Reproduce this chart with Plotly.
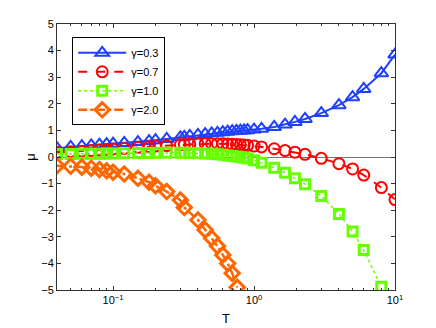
import plotly.graph_objects as go

# ---- data ----
T_main = [0.04, 0.05, 0.06, 0.07, 0.08, 0.09, 0.1, 0.12, 0.15, 0.18, 0.2, 0.24, 0.3, 0.32,
          0.35, 0.4, 0.45, 0.5, 0.55, 0.6, 0.65, 0.7, 0.75, 0.8, 0.85, 0.9, 1.0, 1.13,
          1.39, 1.66, 1.95, 2.3, 3.0, 4.0, 5.0, 6.0, 8.0, 10.0]

mu_03 = [0.33, 0.38, 0.41, 0.44, 0.46, 0.48, 0.50, 0.53, 0.56, 0.60, 0.63, 0.68, 0.74, 0.76,
         0.79, 0.83, 0.86, 0.89, 0.91, 0.93, 0.95, 0.97, 0.98, 0.99, 1.00, 1.01, 1.03, 1.06,
         1.13, 1.22, 1.32, 1.43, 1.65, 1.95, 2.25, 2.56, 3.15, 3.85]

mu_07 = [0.18, 0.20, 0.22, 0.24, 0.26, 0.28, 0.30, 0.32, 0.36, 0.39, 0.41, 0.43, 0.46, 0.47,
         0.48, 0.49, 0.50, 0.50, 0.50, 0.50, 0.49, 0.48, 0.47, 0.46, 0.45, 0.44, 0.41, 0.38,
         0.31, 0.24, 0.18, 0.10, -0.05, -0.25, -0.45, -0.68, -1.15, -1.60]

T_g10 = T_main[:-1]
mu_10 = [0.11, 0.11, 0.12, 0.12, 0.12, 0.13, 0.13, 0.14, 0.15, 0.15, 0.16, 0.16, 0.16, 0.16,
         0.15, 0.14, 0.13, 0.12, 0.10, 0.08, 0.06, 0.04, 0.02, 0.00, -0.03, -0.06, -0.12, -0.22,
         -0.40, -0.59, -0.80, -1.02, -1.47, -2.14, -2.80, -3.50, -4.88]

T_g20 = [0.04, 0.05, 0.06, 0.07, 0.08, 0.09, 0.1, 0.12, 0.15, 0.18, 0.2, 0.24, 0.3, 0.32,
         0.4, 0.45, 0.5, 0.55, 0.6, 0.65, 0.7, 0.76]
mu_20 = [-0.33, -0.35, -0.38, -0.42, -0.47, -0.52, -0.57, -0.64, -0.80, -0.95, -1.08, -1.30,
         -1.62, -1.90, -2.37, -2.74, -3.05, -3.35, -3.68, -4.00, -4.37, -4.90]

x_tickvals = [0.1, 1, 10]
x_ticktext = ["10<sup>−1</sup>", "10<sup>0</sup>", "10<sup>1</sup>"]
y_tickvals = [-5, -4, -3, -2, -1, 0, 1, 2, 3, 4, 5]
y_ticktext = ["−5", "−4", "−3", "−2", "−1", "0", "1", "2", "3", "4", "5"]
labels = ["γ=0.3", "γ=0.7", "γ=1.0", "γ=2.0"]

minor_vals = []
for dec in [0.01, 0.1, 1]:
    for k in range(2, 10):
        v = dec * k
        if 0.04 <= v <= 10:
            minor_vals.append(v)

fig = go.Figure()
fig.add_trace(go.Scatter(x=T_main, y=mu_03, name=labels[0], mode="lines+markers",
                         line=dict(color="#2040ff", width=2, dash="solid"),
                         marker=dict(symbol="triangle-up-open", size=12, color="#2040ff",
                                     line=dict(width=2, color="#2040ff"))))
fig.add_trace(go.Scatter(x=T_main, y=mu_07, name=labels[1], mode="lines+markers",
                         line=dict(color="#ff0000", width=2, dash="dash"),
                         marker=dict(symbol="circle-open", size=11, color="#ff0000",
                                     line=dict(width=2, color="#ff0000"))))
fig.add_trace(go.Scatter(x=T_g10, y=mu_10, name=labels[2], mode="lines+markers",
                         line=dict(color="#66ff00", width=1.5, dash="dot"),
                         marker=dict(symbol="square-open", size=9, color="#66ff00",
                                     line=dict(width=3, color="#66ff00"))))
fig.add_trace(go.Scatter(x=T_g20, y=mu_20, name=labels[3], mode="lines+markers",
                         line=dict(color="#ff6600", width=2.5, dash="dashdot"),
                         marker=dict(symbol="diamond-open", size=11, color="#ff6600",
                                     line=dict(width=3, color="#ff6600"))))

fig.update_layout(
    width=428, height=320,
    margin=dict(l=49, r=41, t=16, b=38),
    paper_bgcolor="white", plot_bgcolor="white",
    font=dict(family="Liberation Sans, Arial, sans-serif", size=11, color="black"),
    showlegend=True,
    legend=dict(x=0.045, y=0.95, xanchor="left", yanchor="top",
                bordercolor="black", borderwidth=1, bgcolor="white",
                itemwidth=48, entrywidth=95, font=dict(size=11), tracegroupgap=0),
    xaxis=dict(type="log", range=[-1.398, 1], tickmode="array", tickvals=x_tickvals,
               ticktext=x_ticktext, automargin=False,
               minor=dict(tickmode="array", tickvals=minor_vals, ticks="inside", ticklen=2,
                          tickcolor="#333", showgrid=False),
               ticks="inside", ticklen=4, tickcolor="#333", showline=True, linecolor="#333",
               linewidth=1, mirror="allticks", showgrid=False, zeroline=False,
               title=dict(text="T", font=dict(size=13), standoff=8)),
    yaxis=dict(range=[-5, 5], tickvals=y_tickvals, ticktext=y_ticktext, automargin=False,
               ticks="inside", ticklen=4, tickcolor="#333", showline=True, linecolor="#333",
               linewidth=1, mirror="allticks", showgrid=False,
               zeroline=True, zerolinecolor="#777", zerolinewidth=1,
               title=dict(text="μ", font=dict(size=13), standoff=2)),
)

fig.write_html("out.html")
